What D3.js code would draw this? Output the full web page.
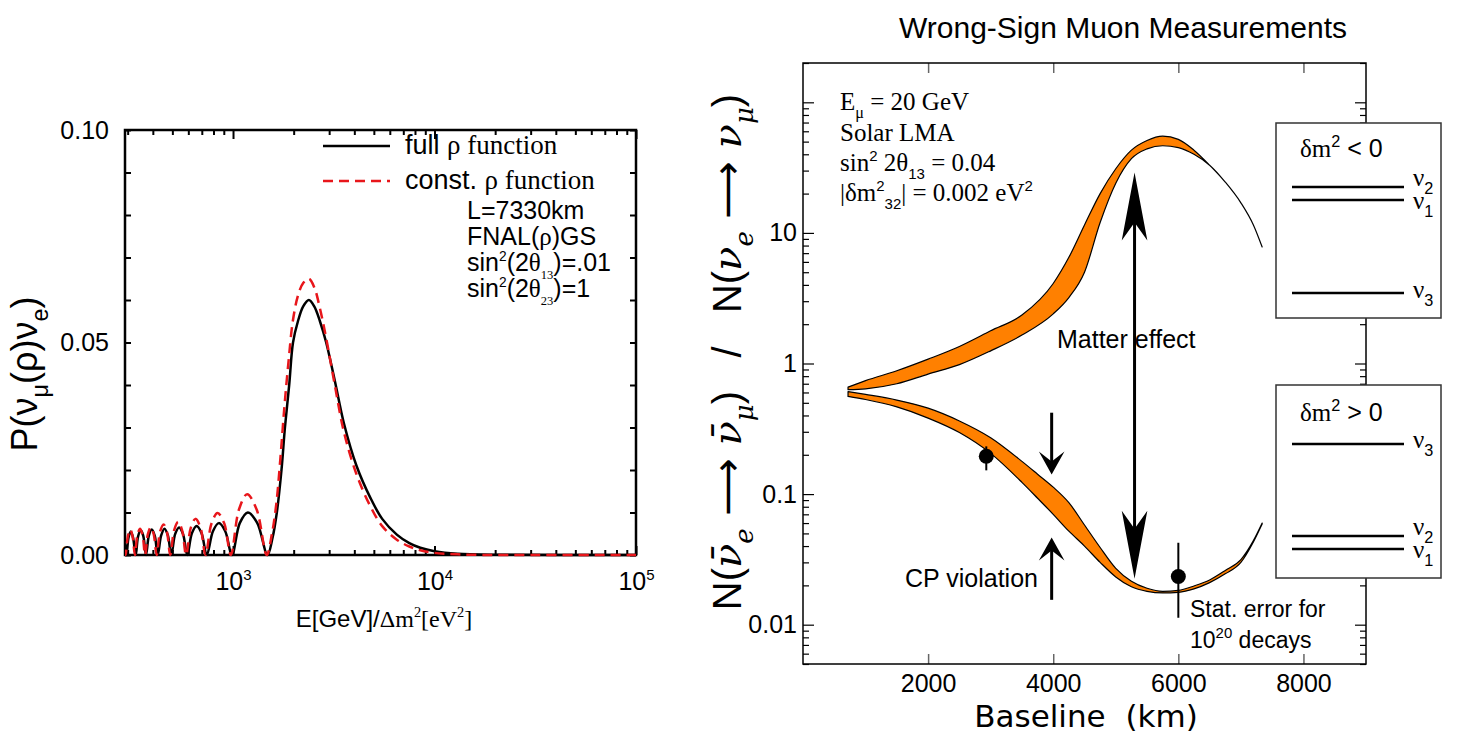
<!DOCTYPE html>
<html>
<head>
<meta charset="utf-8">
<script src="https://cdn.jsdelivr.net/npm/d3@7"></script>
<style>
  body { margin: 0; background: #fff; }
  svg text { white-space: pre; }
</style>
</head>
<body>
<div id="chart"></div>
<script>
// ---- left panel: P(nu_mu -> nu_e) vs E/dm2, L = 7330 km ----
const fullE = [291, 296, 303, 311, 319, 329, 338, 349, 359, 370, 382, 395, 409, 423, 440, 457, 475, 494,
  516, 540, 565, 593, 625, 660, 698, 741, 795, 850, 915, 988, 1080, 1185, 1320, 1482,
  1570, 1650, 1740, 1810, 1900, 1985, 2100, 2230, 2380, 2530, 2700, 2900, 3200, 3550, 4100,
  4800, 5500, 6500, 7500, 8500, 10000, 13000, 20000, 100000];
const fullP = [0.0025, 0, 0.0041, 0.0055, 0.0041, 0, 0.0044, 0.0058, 0.0044, 0, 0.0045, 0.006, 0.0045, 0,
  0.0046, 0.0062, 0.0046, 0, 0.0049, 0.0065, 0.0049, 0, 0.0051, 0.0068, 0.0051, 0, 0.0056, 0.0075, 0.0056, 0,
  0.0075, 0.0100, 0.0075, 0,
  0.004, 0.010, 0.020, 0.030, 0.040, 0.050, 0.055, 0.0585, 0.060, 0.0585, 0.055, 0.050, 0.041, 0.031, 0.021,
  0.0135, 0.0085, 0.0048, 0.0028, 0.0017, 0.0009, 0.0003, 0.00005, 0];

const constE = [291, 293, 301, 309, 317, 326, 335, 346, 356, 366, 378, 391, 404, 418, 434, 452, 470, 488,
  510, 534, 559, 585, 617, 651, 690, 730, 782, 838, 905, 975, 1070, 1175, 1310, 1470,
  1560, 1640, 1720, 1800, 1890, 1980, 2100, 2230, 2380, 2530, 2700, 2900, 3200, 3550, 4100,
  4800, 5500, 6500, 7500, 8500, 10000, 13000, 20000, 100000];
const constP = [0.001, 0, 0.0045, 0.006, 0.0045, 0, 0.0046, 0.0062, 0.0046, 0, 0.0049, 0.0065, 0.0049, 0,
  0.0054, 0.0072, 0.0054, 0, 0.0058, 0.0078, 0.0058, 0, 0.0064, 0.0085, 0.0064, 0, 0.0074, 0.0099, 0.0074, 0,
  0.0107, 0.0143, 0.0107, 0,
  0.005, 0.012, 0.023, 0.035, 0.046, 0.055, 0.061, 0.064, 0.065, 0.063, 0.058, 0.051, 0.040, 0.029, 0.019,
  0.0115, 0.0068, 0.0036, 0.002, 0.0011, 0.0005, 0.00015, 0, 0];

const leftYLabels = [0, 0.05, 0.1];
const leftXDecades = [1000, 10000, 100000];

// ---- right panel: wrong-sign muon ratio vs baseline ----
const upperKm = [720, 1000, 1500, 2000, 2500, 3000, 3500, 4000, 4250, 4500, 4750, 5000, 5250, 5500, 5750,
  6000, 6250, 6500, 6750, 7000, 7200, 7340];
const upperHi = [0.66, 0.74, 0.88, 1.08, 1.35, 1.78, 2.35, 4.1, 6.5, 11.5, 20, 31, 43, 51, 55,
  52, 43, 33, 24.5, 17, 11.5, 7.8];
const upperLo = [0.63, 0.64, 0.70, 0.83, 0.98, 1.25, 1.65, 2.4, 3.2, 5.0, 12, 24, 37, 44, 46.5,
  45, 40, 33, 24.5, 17, 11.5, 7.8];

const lowerKm = [720, 1000, 1500, 2000, 2500, 3000, 3500, 3750, 4000, 4250, 4500, 4750, 5000, 5250, 5500,
  5750, 6000, 6250, 6500, 6750, 7000, 7200, 7340];
const lowerHi = [0.61, 0.58, 0.525, 0.455, 0.363, 0.27, 0.178, 0.142, 0.113, 0.086, 0.058, 0.039, 0.027,
  0.0215, 0.019, 0.018, 0.0183, 0.0198, 0.022, 0.026, 0.0315, 0.044, 0.06];
const lowerLo = [0.56, 0.53, 0.465, 0.382, 0.296, 0.205, 0.123, 0.093, 0.070, 0.052, 0.040, 0.030, 0.0232,
  0.0195, 0.018, 0.0175, 0.0177, 0.0188, 0.021, 0.0245, 0.030, 0.043, 0.059];

const statKm = [2930, 6000];
const statRatio = [0.195, 0.0234];
const statLow = [0.152, 0.0113];
const statHigh = [0.232, 0.0424];

const rightXTicks = [2000, 4000, 6000, 8000];
const rightYLabels = [0.01, 0.1, 1, 10];

// annotation arrows (km, ratio)
const matterArrow = { km: 5300, top: 29, bottom: 0.0225 };
const cpArrow = { km: 3975, downFrom: 0.42, downTo: 0.141, upFrom: 0.0155, upTo: 0.0465 };

const sans = "'Liberation Sans', Arial, sans-serif";
const serif = "'Liberation Serif', 'Times New Roman', serif";

const svg = d3.select('#chart').append('svg')
  .attr('width', 1468)
  .attr('height', 734);

// text with sub/superscripts, parts: {t, f, it, sub, sup, k}
const rich = (text, parts, size) => {
  let shift = 0;
  parts.forEach(p => {
    const small = p.sub || p.sup;
    const target = p.sub ? size * 0.3 : p.sup ? -size * 0.42 : 0;
    text.append('tspan')
      .attr('dy', target - shift)
      .attr('font-family', p.f || null)
      .attr('font-style', p.it ? 'italic' : null)
      .attr('font-size', small ? size * (p.k || 0.65) : size)
      .text(p.t);
    shift = target;
  });
  return text;
};

const isDecade = d => Math.abs(Math.log10(d) - Math.round(Math.log10(d))) < 1e-6;

/* ================= left panel ================= */
const gL = svg.append('g');
const xL = d3.scaleLog().domain([291, 100000]).range([125, 636]);
const yL = d3.scaleLinear().domain([0, 0.1]).range([555, 130]);

svg.append('clipPath').attr('id', 'clipL')
  .append('rect').attr('x', 125).attr('y', 128).attr('width', 511).attr('height', 430);

const xTicksL = xL.ticks();
const axB = gL.append('g').attr('transform', 'translate(0,555)')
  .call(d3.axisBottom(xL).tickValues(xTicksL).tickSize(-5).tickPadding(35)
    .tickFormat(d => leftXDecades.includes(d) ? '10' : ''));
axB.selectAll('.tick line').attr('y2', d => isDecade(d) ? -9 : -5);
axB.selectAll('.tick text').each(function(d) {
  if (!leftXDecades.includes(d)) return;
  const t = d3.select(this).text(null).attr('dy', null);
  rich(t, [{ t: '10' }, { t: String(Math.round(Math.log10(d))), sup: true, k: 0.6 }], 25);
});

const axT = gL.append('g').attr('transform', 'translate(0,130)')
  .call(d3.axisTop(xL).tickValues(xTicksL).tickSize(-5).tickFormat(''));
axT.selectAll('.tick line').attr('y2', d => isDecade(d) ? 9 : 5);

gL.append('g').attr('transform', 'translate(125,0)')
  .call(d3.axisLeft(yL).tickValues(yL.ticks(10)).tickSize(-6).tickPadding(16)
    .tickFormat(d => leftYLabels.some(v => Math.abs(v - d) < 1e-9) ? d3.format('.2f')(d) : ''));
gL.append('g').attr('transform', 'translate(636,0)')
  .call(d3.axisRight(yL).tickValues(yL.ticks(10)).tickSize(-6).tickFormat(''));

gL.selectAll('.domain').remove();
gL.selectAll('.tick line').attr('stroke', '#000').attr('stroke-width', 2);
gL.selectAll('.tick text').attr('font-family', sans).attr('font-size', 25).attr('fill', '#000');

gL.append('rect')
  .attr('x', 125).attr('y', 130).attr('width', 511).attr('height', 425)
  .attr('fill', 'none').attr('stroke', '#000').attr('stroke-width', 2.5);

const lineL = d3.line()
  .x(d => xL(d[0]))
  .y(d => yL(d[1]))
  .curve(d3.curveCatmullRom.alpha(0.5));

gL.append('path')
  .datum(fullE.map((e, i) => [e, fullP[i]]))
  .attr('clip-path', 'url(#clipL)')
  .attr('d', lineL)
  .attr('fill', 'none')
  .attr('stroke', '#000')
  .attr('stroke-width', 2.5);

gL.append('path')
  .datum(constE.map((e, i) => [e, constP[i]]))
  .attr('clip-path', 'url(#clipL)')
  .attr('d', lineL)
  .attr('fill', 'none')
  .attr('stroke', '#e8161b')
  .attr('stroke-width', 2.5)
  .attr('stroke-dasharray', '10,6');

// left axis titles
rich(gL.append('text')
  .attr('transform', 'translate(37,374) rotate(-90)')
  .attr('text-anchor', 'middle')
  .attr('font-family', sans), [
    { t: 'P(ν' }, { t: 'μ', sub: true }, { t: '(ρ)ν' }, { t: 'e', sub: true }, { t: ')' }
  ], 36);

rich(gL.append('text')
  .attr('x', 384).attr('y', 627)
  .attr('text-anchor', 'middle'), [
    { t: 'E[GeV]/', f: sans }, { t: 'Δm', f: serif }, { t: '2', f: serif, sup: true, k: 0.6 },
    { t: '[eV', f: serif }, { t: '2', f: serif, sup: true, k: 0.6 }, { t: ']', f: serif }
  ], 24);

// legend
gL.append('line').attr('x1', 323).attr('x2', 390).attr('y1', 146).attr('y2', 146)
  .attr('stroke', '#000').attr('stroke-width', 2.5);
gL.append('line').attr('x1', 323).attr('x2', 390).attr('y1', 181).attr('y2', 181)
  .attr('stroke', '#e8161b').attr('stroke-width', 2.5).attr('stroke-dasharray', '10,6');
rich(gL.append('text').attr('x', 405).attr('y', 154),
  [{ t: 'full ', f: sans }, { t: 'ρ function', f: serif }], 27);
rich(gL.append('text').attr('x', 405).attr('y', 189),
  [{ t: 'const. ', f: sans }, { t: 'ρ function', f: serif }], 27);

const noteL = [
  [{ t: 'L=7330km', f: sans }],
  [{ t: 'FNAL(', f: sans }, { t: 'ρ', f: serif }, { t: ')GS', f: sans }],
  [{ t: 'sin', f: sans }, { t: '2', f: sans, sup: true, k: 0.55 }, { t: '(2', f: sans }, { t: 'θ', f: serif },
   { t: '13', f: serif, sub: true, k: 0.5 }, { t: ')=.01', f: sans }],
  [{ t: 'sin', f: sans }, { t: '2', f: sans, sup: true, k: 0.55 }, { t: '(2', f: sans }, { t: 'θ', f: serif },
   { t: '23', f: serif, sub: true, k: 0.5 }, { t: ')=1', f: sans }]
];
noteL.forEach((parts, i) => rich(gL.append('text').attr('x', 467).attr('y', 219 + i * 26), parts, 25));

/* ================= right panel ================= */
const gR = svg.append('g');
const xR = d3.scaleLinear().domain([0, 9000]).range([803, 1366]);
const yR = d3.scaleLog().domain([0.005, 200]).range([664, 63]);

gR.append('text')
  .attr('x', 1123).attr('y', 38)
  .attr('text-anchor', 'middle')
  .attr('font-family', sans).attr('font-size', 30)
  .text('Wrong-Sign Muon Measurements');

const yTicksR = yR.ticks();
gR.append('g').attr('transform', 'translate(0,664)')
  .call(d3.axisBottom(xR).tickValues(rightXTicks).tickSize(-10).tickPadding(10).tickFormat(d3.format('d')));
gR.append('g').attr('transform', 'translate(0,63)')
  .call(d3.axisTop(xR).tickValues(rightXTicks).tickSize(-10).tickFormat(''));
gR.selectAll('.tick line').attr('stroke', '#666').attr('stroke-width', 1.5);

const axLR = gR.append('g').attr('transform', 'translate(803,0)')
  .call(d3.axisLeft(yR).tickValues(yTicksR).tickSize(-6).tickPadding(6)
    .tickFormat(d => rightYLabels.some(v => Math.abs(v - d) / v < 1e-6) ? String(d) : ''));
axLR.selectAll('.tick line').attr('x2', d => isDecade(d) ? 11 : 6);
const axRR = gR.append('g').attr('transform', 'translate(1366,0)')
  .call(d3.axisRight(yR).tickValues(yTicksR).tickSize(-6).tickFormat(''));
axRR.selectAll('.tick line').attr('x2', d => isDecade(d) ? -11 : -6);
axLR.selectAll('.tick line').attr('stroke', '#000').attr('stroke-width', 1.2);
axRR.selectAll('.tick line').attr('stroke', '#000').attr('stroke-width', 1.2);

gR.selectAll('.domain').remove();
gR.selectAll('.tick text').attr('font-family', sans).attr('font-size', 25).attr('fill', '#000');

gR.append('rect')
  .attr('x', 803).attr('y', 63).attr('width', 563).attr('height', 601)
  .attr('fill', 'none').attr('stroke', '#000').attr('stroke-width', 1.5);

// orange bands
const band = d3.area()
  .x(d => xR(d.km))
  .y0(d => yR(d.lo))
  .y1(d => yR(d.hi))
  .curve(d3.curveMonotoneX);

[[upperKm, upperLo, upperHi], [lowerKm, lowerLo, lowerHi]].forEach(([km, lo, hi]) => {
  gR.append('path')
    .datum(km.map((k, i) => ({ km: k, lo: lo[i], hi: hi[i] })))
    .attr('d', band)
    .attr('fill', '#ff8000')
    .attr('stroke', '#000')
    .attr('stroke-width', 1.2)
    .attr('stroke-linejoin', 'round');
});

// statistical error points
statKm.forEach((k, i) => {
  gR.append('line')
    .attr('x1', xR(k)).attr('x2', xR(k))
    .attr('y1', yR(statLow[i])).attr('y2', yR(statHigh[i]))
    .attr('stroke', '#000').attr('stroke-width', 2);
  gR.append('circle')
    .attr('cx', xR(k)).attr('cy', yR(statRatio[i])).attr('r', 7.5)
    .attr('fill', '#000');
});

// annotation text
const ann = (x, y, txt) => gR.append('text').attr('x', x).attr('y', y)
  .attr('font-family', sans).attr('font-size', 25).text(txt);
ann(1057, 348, 'Matter effect');
ann(905, 587, 'CP violation');
ann(1190, 617, 'Stat. error for').attr('font-size', 23);
rich(gR.append('text').attr('x', 1190).attr('y', 648).attr('font-family', sans),
  [{ t: '10' }, { t: '20', sup: true, k: 0.65 }, { t: ' decays' }], 23);

// arrows: stealth style heads
const head = (x, tip, dir, len, notch) => {
  const b = tip - dir * len, n = tip - dir * notch;
  return `M${x},${tip}L${x - 12.8},${b}L${x},${n}L${x + 12.8},${b}Z`;
};
const shaft = (x, y1, y2) => gR.append('line')
  .attr('x1', x).attr('x2', x).attr('y1', y1).attr('y2', y2)
  .attr('stroke', '#000').attr('stroke-width', 3);

const mx = xR(matterArrow.km);
shaft(mx, yR(matterArrow.top) + 20, yR(matterArrow.bottom) - 20);
gR.append('path').attr('d', head(mx, yR(matterArrow.top), -1, 68, 50)).attr('fill', '#000');
gR.append('path').attr('d', head(mx, yR(matterArrow.bottom), 1, 68, 50)).attr('fill', '#000');

const cx = xR(cpArrow.km);
shaft(cx, yR(cpArrow.downFrom), yR(cpArrow.downTo) - 8);
gR.append('path').attr('d', head(cx, yR(cpArrow.downTo), 1, 23, 13)).attr('fill', '#000');
shaft(cx, yR(cpArrow.upFrom), yR(cpArrow.upTo) + 8);
gR.append('path').attr('d', head(cx, yR(cpArrow.upTo), -1, 23, 13)).attr('fill', '#000');

// parameter block
const noteR = [
  [{ t: 'E', f: serif }, { t: 'μ', f: serif, sub: true, k: 0.65 }, { t: ' = 20 GeV', f: serif }],
  [{ t: 'Solar LMA', f: serif }],
  [{ t: 'sin', f: serif }, { t: '2', f: sans, sup: true, k: 0.6 }, { t: ' 2θ', f: serif },
   { t: '13', f: sans, sub: true, k: 0.6 }, { t: ' = 0.04', f: serif }],
  [{ t: '|δm', f: serif }, { t: '2', f: sans, sup: true, k: 0.6 }, { t: '32', f: sans, sub: true, k: 0.6 },
   { t: '| = 0.002 eV', f: serif }, { t: '2', f: sans, sup: true, k: 0.6 }]
];
noteR.forEach((parts, i) => rich(gR.append('text').attr('x', 840).attr('y', [110, 141, 171, 201][i]), parts, 25));

// mass hierarchy boxes
const hierarchy = [
  { y: 123, h: 195, sign: '<', titleY: 157,
    levels: [{ n: '2', y: 187, dy: -1 }, { n: '1', y: 200, dy: 9 }, { n: '3', y: 293, dy: 5 }] },
  { y: 385, h: 193, sign: '>', titleY: 421,
    levels: [{ n: '3', y: 444, dy: 4 }, { n: '2', y: 536, dy: -1 }, { n: '1', y: 549, dy: 9 }] }
];
hierarchy.forEach(b => {
  gR.append('rect')
    .attr('x', 1276).attr('y', b.y).attr('width', 165).attr('height', b.h)
    .attr('fill', '#fff').attr('stroke', '#333').attr('stroke-width', 1.5);
  rich(gR.append('text').attr('x', 1300).attr('y', b.titleY), [
    { t: 'δm', f: serif }, { t: '2', f: sans, sup: true, k: 0.65 }, { t: ` ${b.sign} 0`, f: sans }
  ], 25);
  b.levels.forEach(l => {
    gR.append('line')
      .attr('x1', 1292).attr('x2', 1404).attr('y1', l.y).attr('y2', l.y)
      .attr('stroke', '#000').attr('stroke-width', 2.5);
    rich(gR.append('text').attr('x', 1413).attr('y', l.y + l.dy), [
      { t: 'ν', f: serif }, { t: l.n, f: sans, sub: true, k: 0.65 }
    ], 25);
  });
});

// right axis titles
gR.append('text')
  .attr('x', 1086).attr('y', 727)
  .attr('text-anchor', 'middle')
  .attr('font-family', "'DejaVu Sans', sans-serif").attr('font-size', 31)
  .text('Baseline  (km)');

const nuF = "'DejaVu Serif', serif";
const arF = "'DejaVu Sans', sans-serif";
rich(svg.append('text')
  .attr('transform', 'translate(741,352) rotate(-90)')
  .attr('text-anchor', 'middle')
  .attr('font-family', sans), [
    { t: 'N(' }, { t: 'ν\u0304', f: nuF, it: true }, { t: 'e', f: nuF, it: true, sub: true },
    { t: ' ⟶ ', f: arF }, { t: 'ν\u0304', f: nuF, it: true }, { t: 'μ', f: nuF, it: true, sub: true },
    { t: ')   /   N(' }, { t: 'ν', f: nuF, it: true }, { t: 'e', f: nuF, it: true, sub: true },
    { t: ' ⟶ ', f: arF }, { t: 'ν', f: nuF, it: true }, { t: 'μ', f: nuF, it: true, sub: true },
    { t: ')' }
  ], 40);
</script>
</body>
</html>
